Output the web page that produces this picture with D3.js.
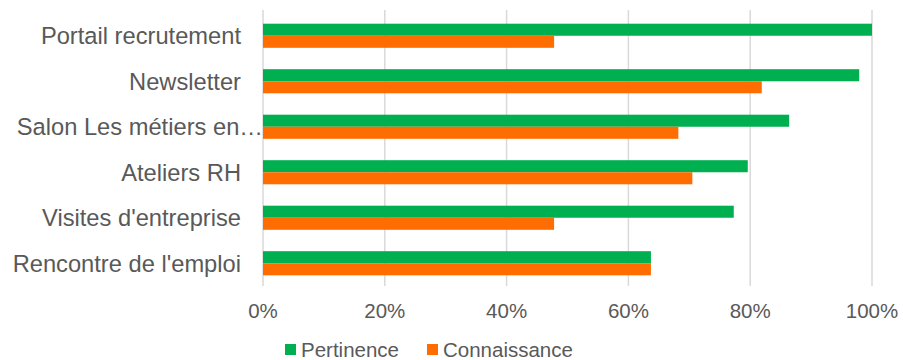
<!DOCTYPE html>
<html>
<head>
<meta charset="utf-8">
<script src="https://cdn.jsdelivr.net/npm/d3@7"></script>
<style>
  body { margin: 0; background: #fff; }
  text { font-family: "Liberation Sans", Arial, sans-serif; fill: #595959; }
</style>
</head>
<body>
<div id="chart"></div>
<script>
// categories, top to bottom
var categories = ["Portail recrutement", "Newsletter", "Salon Les métiers en…", "Ateliers RH", "Visites d'entreprise", "Rencontre de l'emploi"];
var pertinence = [1.00, 0.979, 0.864, 0.796, 0.773, 0.637];
var connaissance = [0.478, 0.819, 0.682, 0.705, 0.478, 0.637];
var seriesNames = ["Pertinence", "Connaissance"];
var seriesColors = ["#00B050", "#FF6D00"];
var ticks = [0, 0.2, 0.4, 0.6, 0.8, 1.0];

var W = 903, H = 360;
var margin = {top: 13, right: 31, bottom: 74, left: 263};
var width = W - margin.left - margin.right,
    height = H - margin.top - margin.bottom;

var svg = d3.select("#chart").append("svg")
    .attr("width", W)
    .attr("height", H);

var g = svg.append("g")
    .attr("transform", "translate(" + margin.left + "," + margin.top + ")");

var x = d3.scaleLinear().domain([0, 1]).range([0, width]);
var y = d3.scaleBand().domain(categories).range([0, height]).paddingInner(0.47).paddingOuter(0.235);
var sub = d3.scaleBand().domain(seriesNames).range([0, y.bandwidth()]);

// gridlines
g.selectAll(".grid")
    .data(ticks)
    .enter()
    .append("line")
    .attr("x1", function(d){ return x(d) })
    .attr("x2", function(d){ return x(d) })
    .attr("y1", -3)
    .attr("y2", height)
    .attr("stroke", "#d9d9d9")
    .attr("stroke-width", 1.5);

// bars
var rows = categories.map(function(c, i){
    return [{cat: c, s: seriesNames[0], v: pertinence[i]}, {cat: c, s: seriesNames[1], v: connaissance[i]}];
});
var flat = [].concat.apply([], rows);

g.selectAll(".bar")
    .data(flat)
    .enter()
    .append("rect")
    .attr("x", x(0))
    .attr("y", function(d){ return y(d.cat) + sub(d.s) })
    .attr("width", function(d){ return x(d.v) - x(0) })
    .attr("height", sub.bandwidth())
    .attr("fill", function(d){ return seriesColors[seriesNames.indexOf(d.s)] });

// category labels (the truncated one runs up to the axis)
g.selectAll(".cat")
    .data(categories)
    .enter()
    .append("text")
    .attr("x", function(d){ return d.indexOf("…") >= 0 ? 0 : -22 })
    .attr("y", function(d){ return y(d) + y.bandwidth() / 2 })
    .attr("dy", "0.36em")
    .attr("text-anchor", "end")
    .style("font-size", "23.7px")
    .text(function(d){ return d });

// x tick labels
g.selectAll(".tick")
    .data(ticks)
    .enter()
    .append("text")
    .attr("x", function(d){ return x(d) })
    .attr("y", height + 32)
    .attr("text-anchor", "middle")
    .style("font-size", "20.5px")
    .text(d3.format(".0%"));

// legend
var legendX = [285, 427];
var leg = svg.selectAll(".leg")
    .data(seriesNames)
    .enter()
    .append("g")
    .attr("transform", function(d, i){ return "translate(" + legendX[i] + "," + 349 + ")" });

leg.append("rect")
    .attr("x", 0)
    .attr("y", -5)
    .attr("width", 11)
    .attr("height", 11)
    .attr("fill", function(d, i){ return seriesColors[i] });

leg.append("text")
    .attr("x", 16)
    .attr("y", 7.5)
    .style("font-size", "20.5px")
    .text(function(d){ return d });
</script>
</body>
</html>
